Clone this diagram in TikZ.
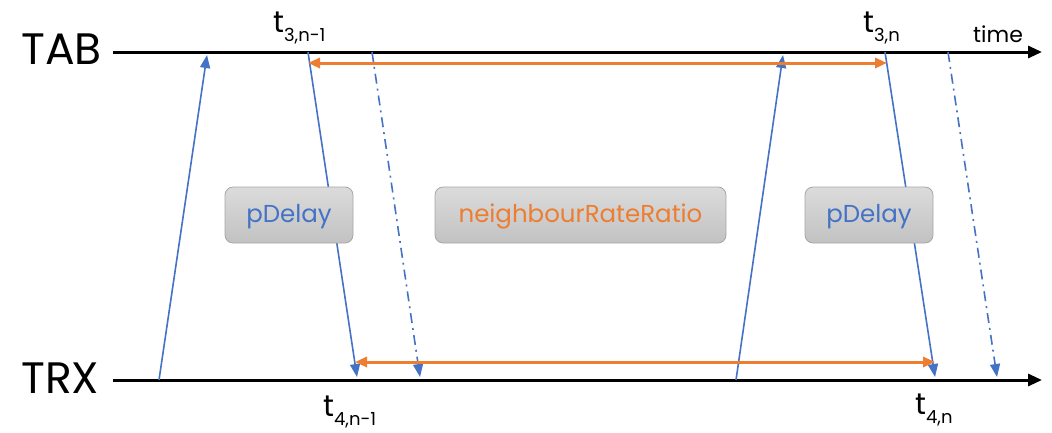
\documentclass[tikz,border=0pt]{standalone}
\usepackage{fontspec}
\setmainfont{Poppins}
\usetikzlibrary{arrows.meta}
\definecolor{msgblue}{HTML}{4472C4}
\definecolor{rateorange}{HTML}{ED7D31}
\definecolor{boxedge}{HTML}{A6A6A6}
\newcommand\stamp[1]{t\raisebox{-0.3em}{\fontsize{18}{18}\selectfont #1}}

\begin{document}
\begin{tikzpicture}[x=1pt,y=-1pt,line join=round,
  axis/.style={line width=3pt,-{Triangle[length=14pt,width=12pt]}},
  msg/.style={msgblue,line width=1.6pt,-{Triangle[length=13pt,width=10pt]}},
  reply/.style={msg,dash pattern=on 10pt off 5pt on 2pt off 5pt},
  span/.style={rateorange,line width=3pt,
    {Triangle[length=12pt,width=10pt]}-{Triangle[length=12pt,width=10pt]}},
  tag/.style={draw=boxedge,line width=0.8pt,rounded corners=8pt,
    top color=black!14,bottom color=black!24,minimum height=56pt,
    text height=18pt,text depth=4pt,
    font=\fontsize{24.5}{28}\selectfont},
  lane/.style={font=\fontsize{44}{46}\selectfont,anchor=base west,inner sep=0pt},
  stampnode/.style={font=\fontsize{30}{32}\selectfont,anchor=base west,inner sep=0pt}]
  \useasboundingbox (0,0) rectangle (1052,432);
% ================= time lines =================
  \node[lane] (tab) at (21,64) {TAB};
  \node[lane] (trx) at (21,393) {TRX};
  \coordinate (tab0) at (113,52);  \coordinate (tab1) at (1042,52);
  \coordinate (trx0) at (113,380); \coordinate (trx1) at (1042,380);
  \draw[axis] (tab0) -- (tab1);
  \draw[axis] (trx0) -- (trx1);
  \node[font=\fontsize{22}{24}\selectfont,anchor=base west,inner sep=0pt] (time) at (973,42) {time};
% ================= messages =================
  \coordinate (s1) at (159,380); \coordinate (e1) at (207,55);
  \coordinate (s2) at (308,52);  \coordinate (e2) at (357,377);
  \coordinate (s3) at (372,52);  \coordinate (e3) at (420,377);
  \coordinate (s4) at (736,380); \coordinate (e4) at (783,55);
  \coordinate (s5) at (885,52);  \coordinate (e5) at (935,377);
  \coordinate (s6) at (948,52);  \coordinate (e6) at (997,377);
  \draw[msg] (s1) -- (e1);
  \draw[msg] (s2) -- (e2);
  \draw[reply] (s3) -- (e3);
  \draw[msg] (s4) -- (e4);
  \draw[msg] (s5) -- (e5);
  \draw[reply] (s6) -- (e6);
  % rate ratio intervals
  \coordinate (r1) at (308,63);  \coordinate (r2) at (887,63);
  \coordinate (r3) at (355,362); \coordinate (r4) at (935,362);
  \draw[span] (r1) -- (r2);
  \draw[span] (r3) -- (r4);
% ================= labels =================
  \node[stampnode] (t3a) at (273,32) {\stamp{3,n-1}};
  \node[stampnode] (t3b) at (863,32) {\stamp{3,n}};
  \node[stampnode] (t4a) at (323,416) {\stamp{4,n-1}};
  \node[stampnode] (t4b) at (915,414) {\stamp{4,n}};
  \node[tag,text=msgblue,minimum width=128pt] (pd1) at (289,215) {pDelay};
  \node[tag,text=rateorange,minimum width=291pt] (nrr) at (580.5,215) {neighbourRateRatio};
  \node[tag,text=msgblue,minimum width=128pt] (pd2) at (869,215) {pDelay};
\end{tikzpicture}
\end{document}
